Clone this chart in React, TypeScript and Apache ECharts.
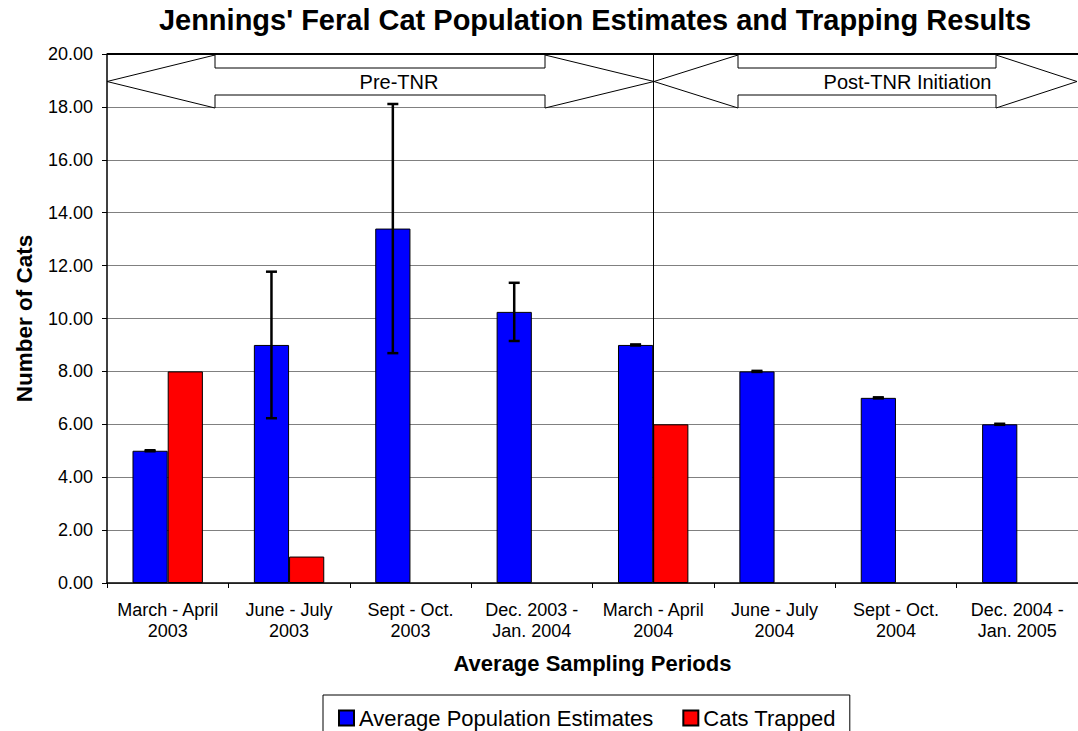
import React, { useEffect, useRef } from "react";
import * as echarts from "echarts";

const categories = [
  "March - April\n2003",
  "June - July\n2003",
  "Sept - Oct.\n2003",
  "Dec. 2003 -\nJan. 2004",
  "March - April\n2004",
  "June - July\n2004",
  "Sept - Oct.\n2004",
  "Dec. 2004 -\nJan. 2005",
];
const populationEstimates = [5, 9, 13.4, 10.25, 9, 8, 7, 6];
const populationError = [0.02, 2.77, 4.71, 1.1, 0.02, 0.02, 0.02, 0.02];
const catsTrapped = [8, 1, null, null, 6, null, null, null];
const yTicks = { min: 0, max: 20, interval: 2 };
const tnrStartCategory = categories[4];

const FONT = 'Arial, "Liberation Sans", sans-serif';

export default function App() {
  const ref = useRef<HTMLDivElement>(null);
  useEffect(() => {
    if (!ref.current) return;
    const chart = echarts.init(ref.current, null, { renderer: "svg" });
    const errData = populationEstimates.map((v, i) => [
      i,
      v - populationError[i],
      v + populationError[i],
    ]);
    const arrowStyle = { fill: "#fff", stroke: "#000", lineWidth: 1 };
    chart.setOption({
      animation: false,
      backgroundColor: "#fff",
      textStyle: { fontFamily: FONT, color: "#000" },
      title: {
        text: "Jennings' Feral Cat Population Estimates and Trapping Results",
        left: 595,
        top: 5,
        padding: 0,
        textAlign: "center",
        textStyle: { fontFamily: FONT, fontSize: 29, fontWeight: "bold", color: "#000" },
      },
      legend: {
        left: 323,
        top: 695,
        padding: [12, 14, 15, 15],
        borderColor: "#000",
        borderWidth: 1,
        itemWidth: 15,
        itemHeight: 15,
        itemGap: 29,
        icon: "rect",
        textStyle: { fontFamily: FONT, fontSize: 22, color: "#000" },
        data: ["Average Population Estimates", "Cats Trapped"],
      },
      grid: { left: 107, top: 54, right: 0, bottom: 148 },
      xAxis: {
        type: "category",
        data: categories,
        name: "Average Sampling Periods",
        nameLocation: "middle",
        nameGap: 69,
        nameTextStyle: { fontFamily: FONT, fontSize: 22, fontWeight: "bold", color: "#000" },
        axisLine: { lineStyle: { color: "#000", width: 1.5 } },
        axisTick: { show: true, length: 5, lineStyle: { color: "#000" } },
        axisLabel: {
          fontFamily: FONT,
          fontSize: 18,
          lineHeight: 21.5,
          color: "#000",
          margin: 16,
          interval: 0,
        },
      },
      yAxis: {
        type: "value",
        min: yTicks.min,
        max: yTicks.max,
        interval: yTicks.interval,
        name: "Number of Cats",
        nameLocation: "middle",
        nameGap: 71,
        nameRotate: 90,
        nameTextStyle: { fontFamily: FONT, fontSize: 22.5, fontWeight: "bold", color: "#000" },
        axisLine: { show: true, lineStyle: { color: "#000", width: 1.5 } },
        axisTick: { show: true, length: 5, lineStyle: { color: "#000" } },
        axisLabel: {
          fontFamily: FONT,
          fontSize: 18,
          color: "#000",
          margin: 14,
          formatter: (v: number) => v.toFixed(2),
        },
        splitLine: { show: true, lineStyle: { color: "#808080", width: 1 } },
      },
      series: [
        {
          name: "Average Population Estimates",
          type: "bar",
          data: populationEstimates,
          barGap: "0%",
          barCategoryGap: "42%",
          itemStyle: { color: "#0000FF", borderColor: "#000", borderWidth: 1 },
        },
        {
          name: "Cats Trapped",
          type: "bar",
          data: catsTrapped,
          itemStyle: { color: "#FF0000", borderColor: "#000", borderWidth: 1 },
        },
        {
          name: "reference lines",
          type: "line",
          data: categories.map(() => null),
          symbol: "none",
          silent: true,
          markLine: {
            silent: true,
            symbol: ["none", "none"],
            label: { show: false },
            lineStyle: { color: "#000", width: 1, type: "solid" },
            data: [
              { xAxis: tnrStartCategory },
              { yAxis: yTicks.max, lineStyle: { color: "#000", width: 2, type: "solid" } },
            ],
          },
        },
        {
          name: "errors",
          type: "custom",
          data: errData,
          z: 5,
          renderItem: (params: any, api: any) => {
            const idx = api.value(0);
            const lo = api.coord([idx, api.value(1)]);
            const hi = api.coord([idx, api.value(2)]);
            const band = api.size([1, 0])[0];
            const x = lo[0] - (band * 0.58) / 4;
            const cap = 5.5;
            const style = { stroke: "#000", lineWidth: 2.5 };
            return {
              type: "group",
              children: [
                { type: "line", shape: { x1: x, y1: lo[1], x2: x, y2: hi[1] }, style },
                { type: "line", shape: { x1: x - cap, y1: hi[1], x2: x + cap, y2: hi[1] }, style },
                { type: "line", shape: { x1: x - cap, y1: lo[1], x2: x + cap, y2: lo[1] }, style },
              ],
            };
          },
        },
      ],
      graphic: [
        {
          type: "polygon",
          z: 10,
          shape: {
            points: [
              [107, 81.5], [215, 55], [215, 68], [545, 68], [545, 55],
              [654, 81.5], [545, 108], [545, 95], [215, 95], [215, 108],
            ],
          },
          style: arrowStyle,
        },
        {
          type: "polygon",
          z: 10,
          shape: {
            points: [
              [654, 81.5], [738, 55], [738, 68], [996, 68], [996, 55],
              [1077, 81.5], [996, 108], [996, 95], [738, 95], [738, 108],
            ],
          },
          style: arrowStyle,
        },
        {
          type: "text",
          z: 11,
          x: 399,
          y: 81.5,
          style: {
            text: "Pre-TNR",
            fontFamily: FONT,
            fontSize: 20,
            fill: "#000",
            align: "center",
            verticalAlign: "middle",
          },
        },
        {
          type: "text",
          z: 11,
          x: 907.5,
          y: 81.5,
          style: {
            text: "Post-TNR Initiation",
            fontFamily: FONT,
            fontSize: 20,
            fill: "#000",
            align: "center",
            verticalAlign: "middle",
          },
        },
      ],
    });
    return () => chart.dispose();
  }, []);
  return (
    <div
      ref={ref}
      style={{ position: "fixed", left: 0, top: 0, width: 1078, height: 731 }}
    />
  );
}
